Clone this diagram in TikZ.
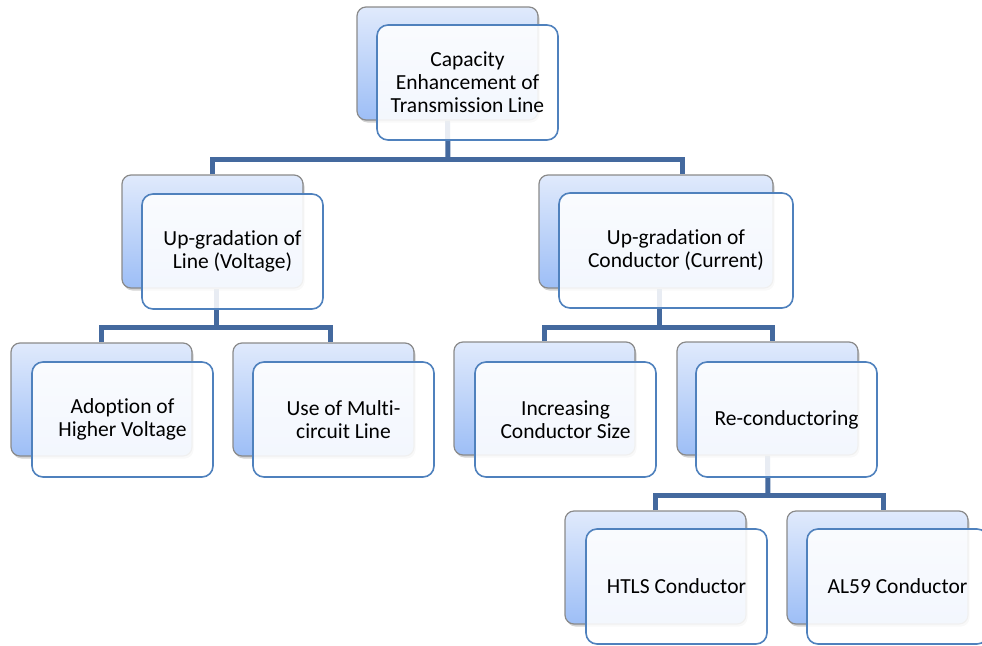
\documentclass[tikz,border=0pt]{standalone}
\usepackage{fontspec}
\setmainfont{Carlito}[Ligatures={NoCommon}]
\usetikzlibrary{shadows,calc}
\definecolor{conncol}{HTML}{44699E}
\definecolor{frontcol}{HTML}{4F81BD}
\definecolor{backtop}{HTML}{E0EAFC}
\definecolor{backbot}{HTML}{9DBEF6}
\definecolor{backline}{HTML}{8A8A8A}
\pgfdeclarelayer{bg}
\pgfsetlayers{bg,main}
\tikzset{
  backbox/.style={rectangle, rounded corners=9pt, draw=backline, line width=1.2pt,
    top color=backtop, bottom color=backbot, minimum width=181pt, minimum height=113pt,
    inner sep=0pt, drop shadow={shadow xshift=1.5pt, shadow yshift=-2.5pt, opacity=0.35}},
  frontbox/.style={rectangle, rounded corners=11pt, draw=frontcol, line width=1.6pt,
    fill=white, fill opacity=0.88, text opacity=1, draw opacity=1, minimum width=181pt,
    minimum height=115pt, inner sep=0pt, align=center,
    font=\fontsize{21.5}{23}\selectfont},
  conn/.style={draw=conncol, line width=5pt, line join=miter},
}
\begin{document}
\begin{tikzpicture}[x=1pt,y=-1pt]
\useasboundingbox (0,0) rectangle (982,645);
\clip (0,0) rectangle (982,645);

\coordinate (j0) at (448,159);
\coordinate (j1) at (216,327);
\coordinate (j2) at (659,327);
\coordinate (j3) at (768,495);

\node[backbox] (b0) at (447.5,63.5) {};
\node[backbox] (b1) at (212.5,231.5) {};
\node[backbox, minimum width=234pt] (b2) at (656,231.5) {};
\node[backbox] (b3) at (101.5,399.5) {};
\node[backbox] (b4) at (323.5,399.5) {};
\node[backbox] (b5) at (544.5,398.5) {};
\node[backbox] (b6) at (767.5,398.5) {};
\node[backbox] (b7) at (655.5,567.5) {};
\node[backbox] (b8) at (877.5,567.5) {};

\begin{pgfonlayer}{bg}
\draw[conn] (b0.south) -- (j0);
\draw[conn] (b1.north) |- (j0) -| ($(b2.north)+(26,0)$);
\draw[conn] ($(b1.south)+(3.5,0)$) -- (j1);
\draw[conn] (b3.north) |- (j1) -| ($(b4.north)+(6.5,0)$);
\draw[conn] ($(b2.south)+(3,0)$) -- (j2);
\draw[conn] (b5.north) |- (j2) -| ($(b6.north)+(4.5,0)$);
\draw[conn] (b6.south) -- (j3);
\draw[conn] (b7.north) |- (j3) -| ($(b8.north)+(5.5,0)$);
\end{pgfonlayer}

\node[frontbox] (f0) at (467.5,82.5) {Capacity\\Enhancement of\\Transmission Line};
\node[frontbox] (f1) at (232.5,251.5) {Up-gradation of\\Line (Voltage)};
\node[frontbox, minimum width=234pt] (f2) at (676,250.5) {Up-gradation of\\Conductor (Current)};
\node[frontbox] (f3) at (122.5,419.5) {Adoption of\\Higher Voltage};
\node[frontbox] (f4) at (343.5,419.5) {Use of Multi-\\circuit Line};
\node[frontbox] (f5) at (565.5,419.5) {Increasing\\Conductor Size};
\node[frontbox] (f6) at (786.5,419.5) {Re-conductoring};
\node[frontbox] (f7) at (676.5,586.5) {HTLS Conductor};
\node[frontbox] (f8) at (897.5,586.5) {AL59 Conductor};
\end{tikzpicture}
\end{document}
